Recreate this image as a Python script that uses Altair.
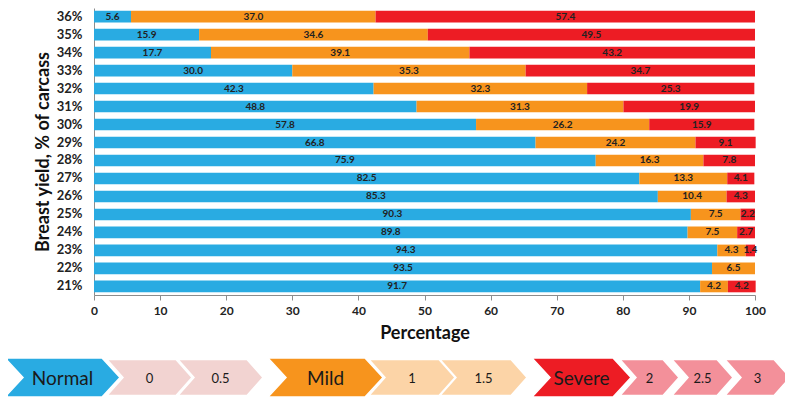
import altair as alt
import pandas as pd

# ---- data ----
yield_levels = ["36%", "35%", "34%", "33%", "32%", "31%", "30%", "29%",
                "28%", "27%", "26%", "25%", "24%", "23%", "22%", "21%"]
normal = [5.6, 15.9, 17.7, 30.0, 42.3, 48.8, 57.8, 66.8, 75.9, 82.5, 85.3, 90.3, 89.8, 94.3, 93.5, 91.7]
mild = [37.0, 34.6, 39.1, 35.3, 32.3, 31.3, 26.2, 24.2, 16.3, 13.3, 10.4, 7.5, 7.5, 4.3, 6.5, 4.2]
severe = [57.4, 49.5, 43.2, 34.7, 25.3, 19.9, 15.9, 9.1, 7.8, 4.1, 4.3, 2.2, 2.7, 1.4, None, 4.2]
severity = ["Normal", "Mild", "Severe"]
bar_colors = ["#29abe2", "#f7941d", "#ed1c24"]

legend_labels = ["Normal", "0", "0.5", "Mild", "1", "1.5", "Severe", "2", "2.5", "3"]
legend_colors = ["#29abe2", "#f2d3d1", "#f2d3d1", "#f7941d", "#fcd4a7", "#fcd4a7",
                 "#ed1c24", "#f3909a", "#f3909a", "#f3909a"]
legend_major = [True, False, False, True, False, False, True, False, False, False]

# ---- layout (page pixels) for the chevron strip ----
PLOT_LEFT, PLOT_TOP = 94, 8
chev_left = [5, 107, 178, 268, 369, 440, 532, 620, 672, 725]
chev_tip = [120, 192, 263, 383, 455, 527, 631, 679, 733, 790]
chev_cy = 377.5

# ---- build tables ----
rows = []
for i, cat in enumerate(yield_levels):
    start = 0.0
    for sev, vals in zip(severity, [normal, mild, severe]):
        v = vals[i]
        if v is None:
            continue
        rows.append(dict(cat=cat, sev=sev, start=start, end=start + v,
                         mid=start + v / 2, label=f"{v:.1f}"))
        start += v
df = pd.DataFrame(rows)


def chevron(w, h, d):
    hh = h / w
    p = 2 * d / w
    return (f"M-1,{-hh:.4f}L{1 - p:.4f},{-hh:.4f}L1,0L{1 - p:.4f},{hh:.4f}"
            f"L-1,{hh:.4f}L{-1 + p:.4f},0Z")


lrows = []
for lab, col, major, l, t in zip(legend_labels, legend_colors, legend_major, chev_left, chev_tip):
    w = t - l
    h = 39 if major else 36
    d = 18 if major else 16
    lrows.append(dict(label=lab, fill=col, cx=(l + t) / 2 - PLOT_LEFT,
                      path=chevron(w, h, d), sz=w * w, fs=19 if major else 13))
ldf = pd.DataFrame(lrows)

FONT = "Lato"

xscale = alt.Scale(domain=[0, 100], nice=False)

bars = alt.Chart(df).mark_bar().encode(
    x=alt.X("start:Q", scale=xscale,
            axis=alt.Axis(title="Percentage", values=list(range(0, 101, 10)),
                          tickSize=5, tickColor="#8c8c8c", domainColor="#8c8c8c",
                          grid=False, labelFont=FONT, labelFontSize=12,
                          labelFontWeight="bold", labelColor="#222",
                          labelPadding=5, labelFlush=False,
                          titleFont=FONT, titleFontSize=18, titleFontWeight="bold",
                          titleColor="#111", titlePadding=8)),
    x2="end:Q",
    y=alt.Y("cat:N", sort=yield_levels,
            scale=alt.Scale(paddingInner=0.35, paddingOuter=0.15),
            axis=alt.Axis(title="Breast yield, % of carcass", ticks=False,
                          domainColor="#8c8c8c", labelFont=FONT, labelFontSize=13,
                          labelFontWeight="bold", labelColor="#222", labelPadding=12,
                          titleFont=FONT, titleFontSize=18, titleFontWeight="bold",
                          titleColor="#111", titlePadding=4)),
    color=alt.Color("sev:N", scale=alt.Scale(domain=severity, range=bar_colors), legend=None),
)

labels = alt.Chart(df).mark_text(font=FONT, fontSize=10, fontWeight="bold", color="#222").encode(
    x=alt.X("mid:Q"),
    y=alt.Y("cat:N", sort=yield_levels),
    text="label:N",
)

chevrons = alt.Chart(ldf).mark_point(filled=True, opacity=1, stroke="white", strokeWidth=1.5).encode(
    x=alt.X("cx:Q", scale=None, axis=None),
    y=alt.value(chev_cy - PLOT_TOP),
    shape=alt.Shape("path:N", scale=None, legend=None),
    size=alt.Size("sz:Q", scale=None, legend=None),
    fill=alt.Fill("fill:N", scale=None, legend=None),
)

chev_text = alt.Chart(ldf).mark_text(font=FONT, color="#1a1a1a", baseline="middle").encode(
    x=alt.X("cx:Q", scale=None, axis=None),
    y=alt.value(chev_cy - PLOT_TOP + 1),
    text="label:N",
    size=alt.Size("fs:Q", scale=None, legend=None),
)

chart = alt.layer(alt.layer(bars, labels), chevrons, chev_text).resolve_scale(
    x="independent"
).properties(
    width=661, height=287,
    padding={"left": 86, "top": 0, "right": 30, "bottom": 102},
    autosize=alt.AutoSizeParams(type="none"),
).configure_view(stroke=None)

chart.save("out.html", embed_options={"renderer": "svg", "actions": False})
